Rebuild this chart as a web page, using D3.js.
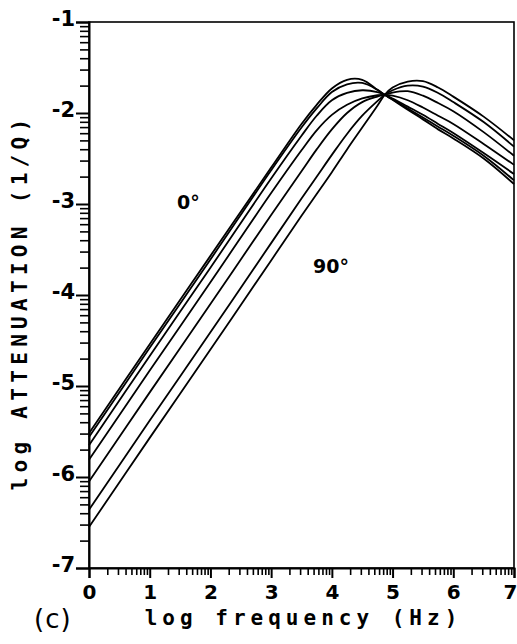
<!DOCTYPE html>
<html>
<head>
<meta charset="utf-8">
<script src="https://cdn.jsdelivr.net/npm/d3@7"></script>
<style>
  html, body { margin: 0; padding: 0; background: #fff; }
  svg { display: block; }
</style>
</head>
<body>
<svg id="chart" width="517" height="644"></svg>
<script>
// ---- data ----
const xTicks = [0, 1, 2, 3, 4, 5, 6, 7];
const yTicks = [-7, -6, -5, -4, -3, -2, -1];
const logFreq = [0, 1, 2, 3, 3.5, 3.75, 4, 4.25, 4.5, 4.75, 4.87, 5, 5.25, 5.5, 5.75, 6, 6.5, 7];
const angles = ["0°", "15°", "30°", "45°", "60°", "75°", "90°"];
const att0  = [-5.52, -4.54, -3.57, -2.60, -2.12, -1.91, -1.73, -1.635, -1.635, -1.745, -1.80, -1.855, -1.965, -2.07, -2.18, -2.28, -2.50, -2.78];
const att15 = [-5.56, -4.58, -3.61, -2.63, -2.16, -1.95, -1.77, -1.685, -1.67, -1.745, -1.80, -1.85, -1.95, -2.05, -2.15, -2.25, -2.47, -2.74];
const att30 = [-5.65, -4.67, -3.70, -2.72, -2.25, -2.03, -1.86, -1.78, -1.75, -1.77, -1.80, -1.84, -1.93, -2.02, -2.12, -2.22, -2.44, -2.67];
const att45 = [-5.81, -4.83, -3.86, -2.88, -2.41, -2.19, -2.02, -1.91, -1.84, -1.805, -1.80, -1.81, -1.86, -1.94, -2.03, -2.12, -2.34, -2.57];
const att60 = [-6.05, -5.07, -4.10, -3.12, -2.64, -2.40, -2.18, -2.00, -1.88, -1.82, -1.80, -1.775, -1.76, -1.81, -1.89, -1.98, -2.21, -2.47];
const att75 = [-6.36, -5.38, -4.41, -3.43, -2.94, -2.70, -2.46, -2.23, -2.03, -1.87, -1.80, -1.75, -1.70, -1.71, -1.78, -1.88, -2.10, -2.37];
const att90 = [-6.55, -5.57, -4.60, -3.62, -3.13, -2.89, -2.65, -2.40, -2.16, -1.92, -1.80, -1.72, -1.655, -1.65, -1.72, -1.82, -2.04, -2.30];
const series = [att0, att15, att30, att45, att60, att75, att90];
const curveLabels = [{ text: "0°", x: 1.45, y: -2.98 }, { text: "90°", x: 3.69, y: -3.68 }];

// ---- layout ----
const svg = d3.select("#chart");
const x = d3.scaleLinear().domain([0, 7]).range([89, 514]);
const y = d3.scaleLinear().domain([-7, -1]).range([568, 22]);
const FONT = "'DejaVu Sans', sans-serif";
const MONO = "'DejaVu Sans Mono', monospace";

// minor log ticks
const logs = d3.range(2, 10).map(k => Math.log10(k));
const xMinor = [];
xTicks.slice(0, -1).forEach(d => logs.forEach(l => xMinor.push(d + l)));
const yMinor = [];
yTicks.slice(0, -1).forEach(d => logs.forEach(l => yMinor.push(d + l)));

// frame
svg.append("rect")
  .attr("x", x(0)).attr("y", y(-1))
  .attr("width", x(7) - x(0)).attr("height", y(-7) - y(-1))
  .attr("fill", "none").attr("stroke", "#000").attr("stroke-width", 1.6);

// x axis minor
svg.append("g").attr("transform", `translate(0,${y(-7)})`)
  .call(d3.axisBottom(x).tickValues(xMinor).tickSize(7).tickFormat(""))
  .call(g => g.select(".domain").remove())
  .call(g => g.selectAll("line").attr("stroke-width", 1.6));
// x axis major
svg.append("g").attr("transform", `translate(0,${y(-7)})`)
  .call(d3.axisBottom(x).tickValues(xTicks).tickSize(10).tickPadding(7).tickFormat(d3.format("d")))
  .call(g => g.select(".domain").attr("stroke-width", 2))
  .call(g => g.selectAll("line").attr("stroke-width", 2))
  .call(g => g.selectAll("text").attr("font-family", FONT).attr("font-weight", "bold").attr("font-size", 20).attr("fill", "#000"))
  .call(g => g.selectAll("text").filter(d => d === 7).attr("dx", -4));

// y axis minor
svg.append("g").attr("transform", `translate(${x(0)},0)`)
  .call(d3.axisLeft(y).tickValues(yMinor).tickSize(9).tickFormat(""))
  .call(g => g.select(".domain").remove())
  .call(g => g.selectAll("line").attr("stroke-width", 1.6));
// y axis major
svg.append("g").attr("transform", `translate(${x(0)},0)`)
  .call(d3.axisLeft(y).tickValues(yTicks).tickSize(13).tickPadding(1).tickFormat(d => "-" + Math.abs(d)))
  .call(g => g.select(".domain").attr("stroke-width", 2))
  .call(g => g.selectAll("line").attr("stroke-width", 2))
  .call(g => g.selectAll("text").attr("font-family", FONT).attr("font-weight", "bold").attr("font-size", 21).attr("dy", "0.15em").attr("fill", "#000"));

// curves
const line = d3.line()
  .x((d, i) => x(logFreq[i]))
  .y(d => y(d))
  .curve(d3.curveCatmullRom.alpha(0.5));
svg.append("g").selectAll("path").data(series).join("path")
  .attr("d", d => line(d))
  .attr("fill", "none").attr("stroke", "#000").attr("stroke-width", 1.8);

// curve labels
svg.append("g").selectAll("text").data(curveLabels).join("text")
  .attr("x", d => x(d.x)).attr("y", d => y(d.y))
  .attr("font-family", FONT).attr("font-weight", "bold").attr("font-size", 19)
  .attr("dy", "0.35em")
  .text(d => d.text);

// axis titles
svg.append("text")
  .attr("x", (x(0) + x(7)) / 2 + 2).attr("y", 625)
  .attr("text-anchor", "middle")
  .attr("font-family", MONO).attr("font-weight", "bold").attr("font-size", 21)
  .attr("letter-spacing", 5)
  .text("log frequency (Hz)");

svg.append("text")
  .attr("transform", "translate(27,302) rotate(-90)")
  .attr("text-anchor", "middle")
  .attr("font-family", MONO).attr("font-weight", "bold").attr("font-size", 21)
  .attr("letter-spacing", 5.3)
  .text("log ATTENUATION (1/Q)");

svg.append("text")
  .attr("x", 34).attr("y", 628)
  .attr("font-family", FONT).attr("font-size", 26)
  .attr("letter-spacing", 1)
  .text("(c)");
</script>
</body>
</html>
